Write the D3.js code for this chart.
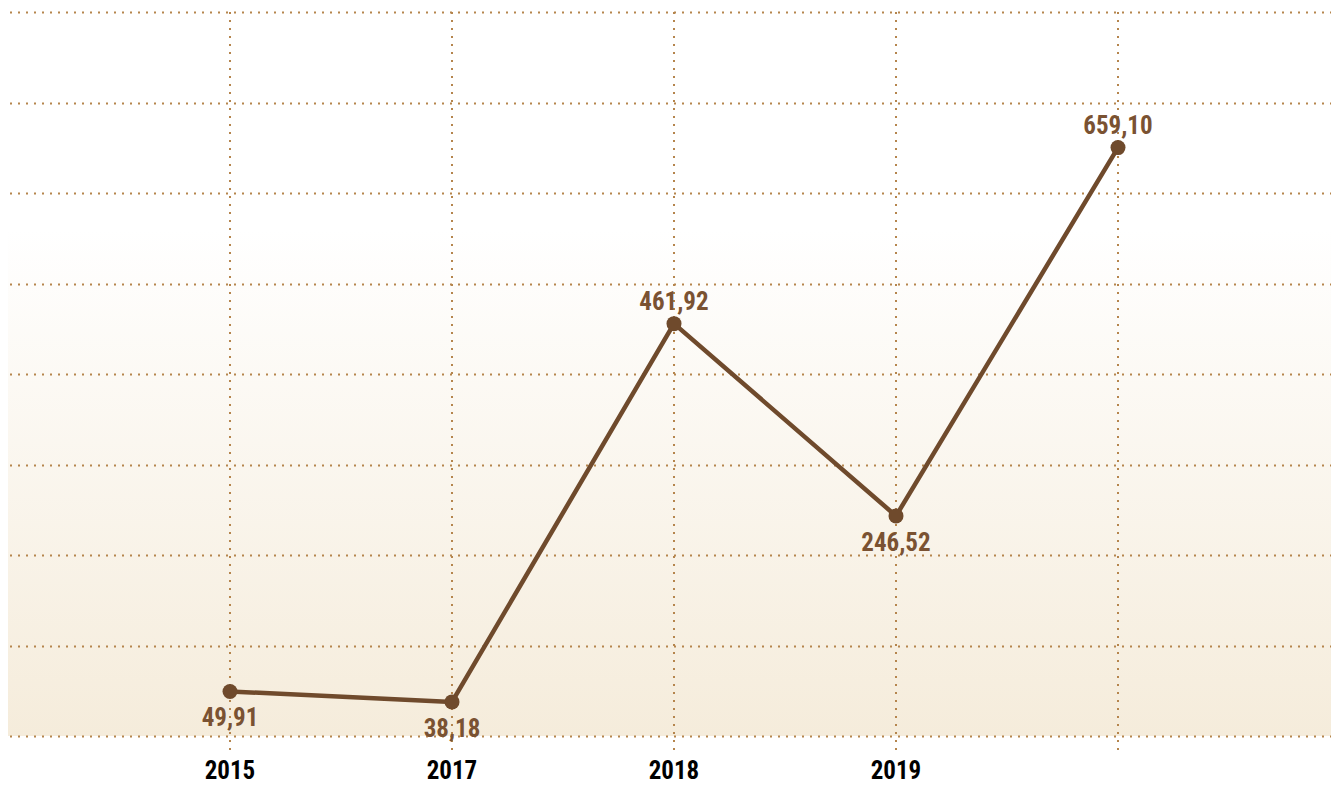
<!DOCTYPE html>
<html><head><meta charset="utf-8">
<script src="https://cdn.jsdelivr.net/npm/d3@7"></script>
<style>
html,body{margin:0;padding:0;background:#fff;}
svg{display:block;}
text{font-family:"Liberation Sans Narrow","Arial Narrow","Roboto Condensed","Liberation Sans",sans-serif;font-weight:bold;}
</style></head>
<body><svg id="c" width="1331" height="786"></svg>
<script>
const categories = ["2015", "2017", "2018", "2019", ""];
const values = [49.91, 38.18, 461.92, 246.52, 659.10];
const labelPos = ["below", "below", "above", "below", "above"];
const gridSteps = [0, 1, 2, 3, 4, 5, 6, 7, 8];

(function(){
const W = 1331;
const pl = 8, pr = 1340, pt = 12, pb = 736;
const svg = d3.select("#c");

const x = d3.scalePoint().domain(categories.map((c,i)=>i)).range([pl, pr]).padding(1);
const y = d3.scaleLinear().domain([0, 811]).range([pb, pt]);
const yGrid = d3.scaleLinear().domain([0, 8]).range([pb, pt]);

const defs = svg.append("defs");
const g = defs.append("linearGradient").attr("id","bg").attr("x1",0).attr("y1",0).attr("x2",0).attr("y2",1);
g.append("stop").attr("offset","0%").attr("stop-color","#ffffff");
g.append("stop").attr("offset","30%").attr("stop-color","#ffffff");
g.append("stop").attr("offset","100%").attr("stop-color","#f5ecdb");

svg.append("rect").attr("x",pl).attr("y",pt).attr("width",W-pl).attr("height",pb-pt).attr("fill","url(#bg)");

svg.append("g").selectAll("line").data(gridSteps).join("line")
  .attr("x1",pl+2).attr("x2",W)
  .attr("y1",d=>Math.round(yGrid(d))+0.5).attr("y2",d=>Math.round(yGrid(d))+0.5)
  .attr("stroke","#b5854d").attr("stroke-width",2).attr("stroke-dasharray","2,6");

svg.append("g").selectAll("line").data(categories.map((c,i)=>i)).join("line")
  .attr("x1",d=>x(d)).attr("x2",d=>x(d))
  .attr("y1",pt).attr("y2",752)
  .attr("stroke","#b5854d").attr("stroke-width",2).attr("stroke-dasharray","2,6");

const line = d3.line().x((d,i)=>x(i)).y(d=>y(d));
svg.append("path").datum(values).attr("d",line).attr("fill","none")
  .attr("stroke","#6f4a2c").attr("stroke-width",4.5).attr("stroke-linejoin","round");

svg.append("g").selectAll("circle").data(values).join("circle")
  .attr("cx",(d,i)=>x(i)).attr("cy",d=>y(d)).attr("r",7.5).attr("fill","#6f4a2c");

const fmt = d => d.toFixed(2).replace(".", ",");
svg.append("g").selectAll("text").data(values).join("text")
  .attr("x",(d,i)=>x(i))
  .attr("y",(d,i)=>labelPos[i]==="above" ? y(d)-14 : y(d)+35)
  .attr("text-anchor","middle").attr("font-size",25).attr("fill","#7a5232")
  .text(fmt);

svg.append("g").selectAll("text").data(categories).join("text")
  .attr("x",(d,i)=>x(i)).attr("y",779)
  .attr("text-anchor","middle").attr("font-size",25).attr("fill","#000")
  .text(d=>d);
})();
</script></body></html>
